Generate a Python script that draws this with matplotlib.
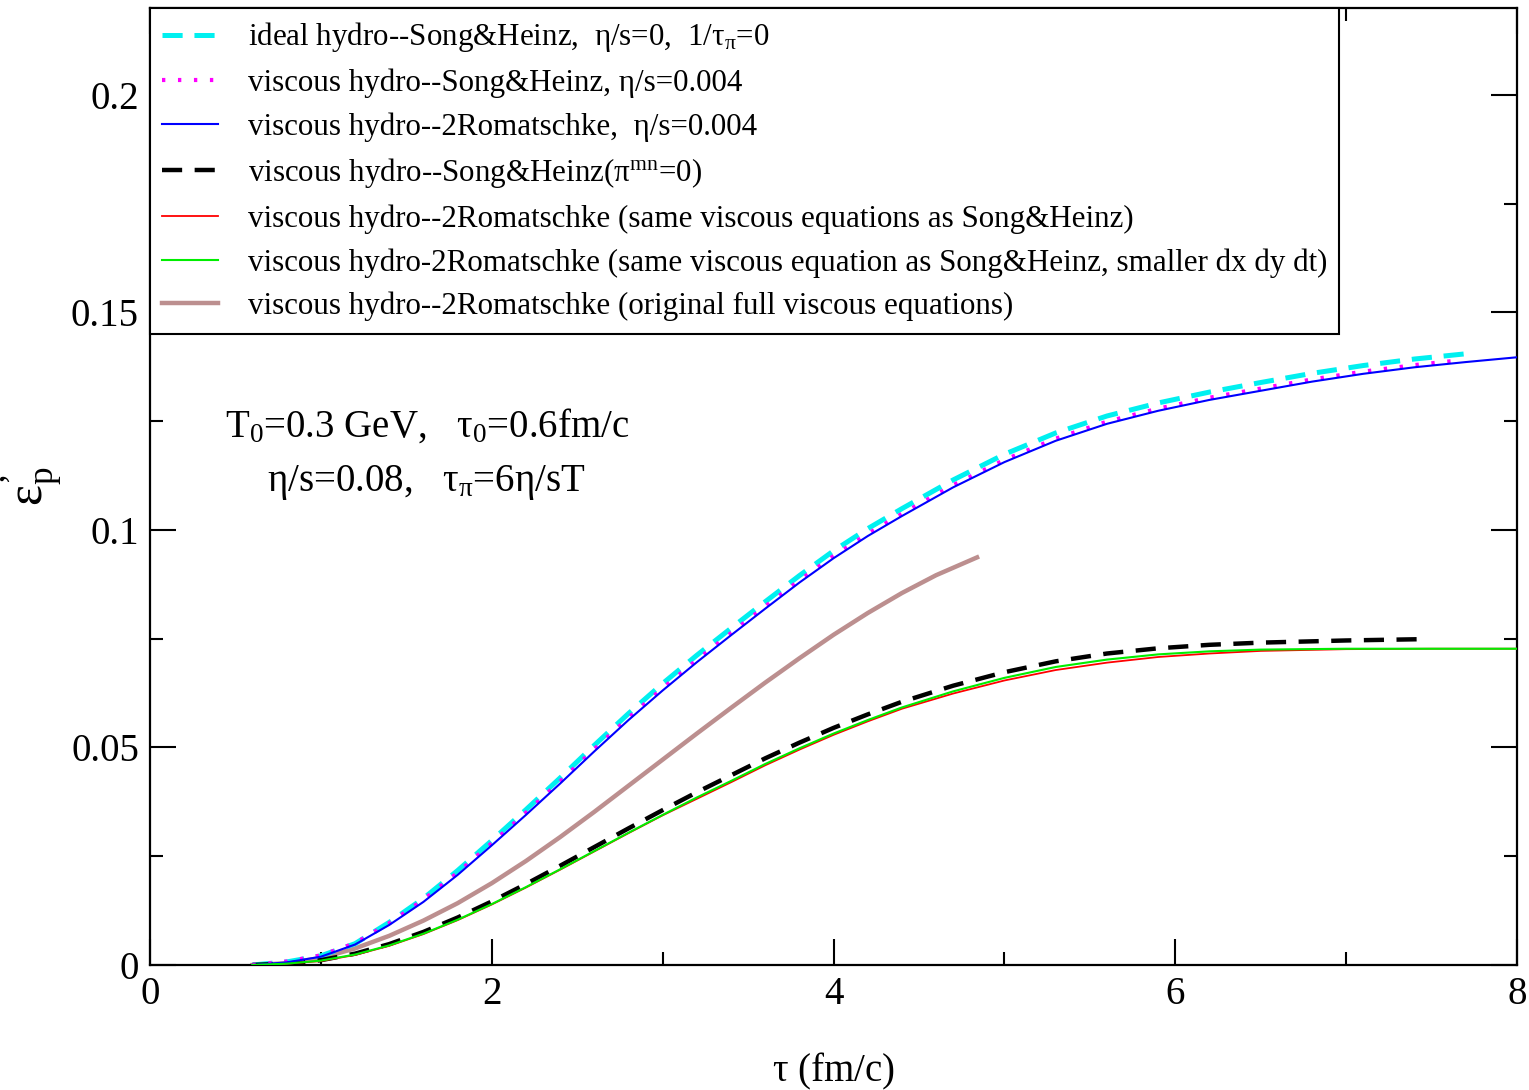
import matplotlib
matplotlib.use("Agg")
import matplotlib.pyplot as plt
from matplotlib.ticker import MultipleLocator

plt.rcParams["font.family"] = ["Liberation Serif", "DejaVu Serif"]
plt.rcParams["mathtext.fontset"] = "custom"
plt.rcParams["mathtext.rm"] = "Liberation Serif"
plt.rcParams["mathtext.it"] = "Liberation Serif"
plt.rcParams["mathtext.default"] = "rm"
plt.rcParams["lines.scale_dashes"] = False

# ideal hydro (Song & Heinz)
tau_ideal = [0.6, 0.8, 1.0, 1.2, 1.4, 1.6, 1.8, 2.0, 2.2, 2.4, 2.6, 2.8, 3.0, 3.2, 3.4,
             3.6, 3.8, 4.0, 4.2, 4.4, 4.7, 5.0, 5.3, 5.6, 5.9, 6.2, 6.5, 6.8, 7.1, 7.4, 7.7]
ep_ideal = [0.0, 0.0007, 0.0021, 0.0049, 0.0098, 0.0153, 0.0217, 0.0286, 0.0357, 0.0430,
            0.0505, 0.0578, 0.0647, 0.0712, 0.0774, 0.0835, 0.0895, 0.0952, 0.1003, 0.1049,
            0.1115, 0.1174, 0.1223, 0.1262, 0.1292, 0.1317, 0.1339, 0.1360, 0.1378, 0.1393,
            0.1405]

# viscous, eta/s = 0.004 (Song & Heinz)
tau_sh004 = [0.6, 0.8, 1.0, 1.2, 1.4, 1.6, 1.8, 2.0, 2.2, 2.4, 2.6, 2.8, 3.0, 3.2, 3.4,
             3.6, 3.8, 4.0, 4.2, 4.4, 4.7, 5.0, 5.3, 5.6, 5.9, 6.2, 6.5, 6.8, 7.1, 7.4, 7.64]
ep_sh004 = [0.0, 0.0008, 0.0022, 0.0050, 0.0096, 0.0150, 0.0212, 0.0280, 0.0350, 0.0422,
            0.0496, 0.0568, 0.0636, 0.0701, 0.0763, 0.0824, 0.0884, 0.0940, 0.0991, 0.1037,
            0.1103, 0.1161, 0.1210, 0.1249, 0.1279, 0.1304, 0.1325, 0.1346, 0.1364, 0.1379,
            0.1389]

# viscous, eta/s = 0.004 (Romatschke)
tau_r004 = [0.6, 0.8, 1.0, 1.2, 1.4, 1.6, 1.8, 2.0, 2.2, 2.4, 2.6, 2.8, 3.0, 3.2, 3.4,
            3.6, 3.8, 4.0, 4.2, 4.4, 4.7, 5.0, 5.3, 5.6, 5.9, 6.2, 6.5, 6.8, 7.1, 7.4, 7.7, 8.0]
ep_r004 = [0.0, 0.0006, 0.0019, 0.0047, 0.0092, 0.0145, 0.0207, 0.0275, 0.0345, 0.0417,
           0.0491, 0.0563, 0.0631, 0.0696, 0.0758, 0.0819, 0.0879, 0.0935, 0.0986, 0.1032,
           0.1098, 0.1156, 0.1205, 0.1244, 0.1274, 0.1299, 0.1320, 0.1341, 0.1359, 0.1374,
           0.1386, 0.1397]

# Song & Heinz with pi^mn = 0
tau_sh0 = [0.6, 0.8, 1.0, 1.2, 1.4, 1.6, 1.8, 2.0, 2.2, 2.4, 2.6, 2.8, 3.0, 3.2, 3.4,
           3.6, 3.8, 4.0, 4.2, 4.4, 4.7, 5.0, 5.3, 5.6, 5.9, 6.2, 6.5, 7.0, 7.45]
ep_sh0 = [0.0, 0.0003, 0.0011, 0.0026, 0.0048, 0.0076, 0.0109, 0.0146, 0.0186, 0.0228,
          0.0271, 0.0314, 0.0356, 0.0397, 0.0436, 0.0475, 0.0511, 0.0545, 0.0576, 0.0605,
          0.0642, 0.0673, 0.0698, 0.0716, 0.0728, 0.0736, 0.0741, 0.0746, 0.0749]

# Romatschke, same viscous equations as Song & Heinz
tau_rsame = [0.6, 0.8, 1.0, 1.2, 1.4, 1.6, 1.8, 2.0, 2.2, 2.4, 2.6, 2.8, 3.0, 3.2, 3.4,
             3.6, 3.8, 4.0, 4.2, 4.4, 4.7, 5.0, 5.3, 5.6, 5.9, 6.2, 6.5, 7.0, 7.5, 8.0]
ep_rsame = [0.0, 0.0003, 0.0009, 0.0023, 0.0044, 0.0071, 0.0103, 0.0139, 0.0178, 0.0219,
            0.0261, 0.0303, 0.0344, 0.0382, 0.0420, 0.0459, 0.0495, 0.0529, 0.0560, 0.0589,
            0.0624, 0.0654, 0.0678, 0.0695, 0.0708, 0.0716, 0.0722, 0.0726, 0.0727, 0.0727]

# Romatschke, same equations, smaller dx dy dt
tau_rfine = [0.6, 0.8, 1.0, 1.2, 1.4, 1.6, 1.8, 2.0, 2.2, 2.4, 2.6, 2.8, 3.0, 3.2, 3.4,
             3.6, 3.8, 4.0, 4.2, 4.4, 4.7, 5.0, 5.3, 5.6, 5.9, 6.2, 6.5, 7.0, 7.5, 8.0]
ep_rfine = [0.0, 0.0003, 0.0010, 0.0024, 0.0045, 0.0072, 0.0104, 0.0140, 0.0179, 0.0220,
            0.0262, 0.0304, 0.0345, 0.0385, 0.0423, 0.0462, 0.0498, 0.0532, 0.0563, 0.0592,
            0.0629, 0.0660, 0.0685, 0.0702, 0.0714, 0.0721, 0.0725, 0.0727, 0.0727, 0.0727]

# Romatschke, original full viscous equations
tau_rfull = [0.6, 0.8, 1.0, 1.2, 1.4, 1.6, 1.8, 2.0, 2.2, 2.4, 2.6, 2.8, 3.0, 3.2, 3.4,
             3.6, 3.8, 4.0, 4.2, 4.4, 4.6, 4.84]
ep_rfull = [0.0, 0.0004, 0.0016, 0.0038, 0.0067, 0.0102, 0.0142, 0.0188, 0.0239, 0.0294,
            0.0352, 0.0412, 0.0472, 0.0532, 0.0591, 0.0649, 0.0705, 0.0759, 0.0809, 0.0855,
            0.0896, 0.0937]

labels = [
    r"ideal hydro--Song&Heinz,  η/s=0,  1/$\tau_{\pi}$=0",
    "viscous hydro--Song&Heinz, η/s=0.004",
    "viscous hydro--2Romatschke,  η/s=0.004",
    r"viscous hydro--Song&Heinz($\pi^{\mathrm{mn}}$=0)",
    "viscous hydro--2Romatschke (same viscous equations as Song&Heinz)",
    "viscous hydro-2Romatschke (same viscous equation as Song&Heinz, smaller dx dy dt)",
    "viscous hydro--2Romatschke (original full viscous equations)",
]

fig = plt.figure(figsize=(15.29, 10.9), dpi=100)
ax = fig.add_axes([0.0981, 0.1147, 0.8941, 0.878])

ax.plot(tau_ideal, ep_ideal, color="#00f0f0", lw=3.6, dashes=(14.5, 8.5), label=labels[0], zorder=3)
ax.plot(tau_sh004, ep_sh004, color="#ff00ff", lw=3.0, dashes=(2.4, 9.1), label=labels[1], zorder=4)
ax.plot(tau_r004, ep_r004, color="#0000ff", lw=1.5, label=labels[2], zorder=5)
ax.plot(tau_sh0, ep_sh0, color="black", lw=3.2, dashes=(14.5, 9.0), label=labels[3], zorder=3)
ax.plot(tau_rsame, ep_rsame, color="#ff0000", lw=1.3, label=labels[4], zorder=4)
ax.plot(tau_rfine, ep_rfine, color="#00ee00", lw=1.5, label=labels[5], zorder=5)
ax.plot(tau_rfull, ep_rfull, color="#bc8f8f", lw=3.2, label=labels[6], zorder=2)

ax.set_xlim(0, 8)
ax.set_ylim(0, 0.22)
ax.xaxis.set_major_locator(MultipleLocator(2))
ax.xaxis.set_minor_locator(MultipleLocator(1))
ax.yaxis.set_major_locator(MultipleLocator(0.05))
ax.yaxis.set_minor_locator(MultipleLocator(0.025))
ax.set_yticks([0, 0.05, 0.1, 0.15, 0.2])
ax.set_yticklabels(["0", "0.05", "0.1", "0.15", "0.2"])

ax.tick_params(which="both", direction="in", top=True, right=True, labelsize=28, width=1.5)
ax.tick_params(which="major", length=19, pad=8)
ax.tick_params(which="minor", length=9.5)
for spine in ax.spines.values():
    spine.set_linewidth(1.6)

ax.set_xlabel(r"$\tau$ (fm/c)", fontsize=28)
ax.xaxis.set_label_coords(0.5, -0.09)
ax.set_ylabel("$\\varepsilon^{\u2019}_{\\mathrm{p}}$", fontsize=36)
ax.yaxis.set_label_coords(-0.062, 0.5)

ax.text(0.44, 0.1215, r"T$_0$=0.3 GeV,   $\tau_0$=0.6fm/c", fontsize=28, va="baseline", ha="left")
ax.text(0.685, 0.1089, r"η/s=0.08,   $\tau_{\pi}$=6η/sT", fontsize=28, va="baseline", ha="left")

leg = ax.legend(loc="upper left", bbox_to_anchor=(0, 1), borderaxespad=0, fontsize=22.3,
                frameon=True, fancybox=False, framealpha=1, edgecolor="black",
                handlelength=1.8, handletextpad=0.95, labelspacing=0.46, borderpad=0.4)
leg.get_frame().set_linewidth(1.5)
leg.set_zorder(10)

fig.savefig("out.png", dpi=100)
